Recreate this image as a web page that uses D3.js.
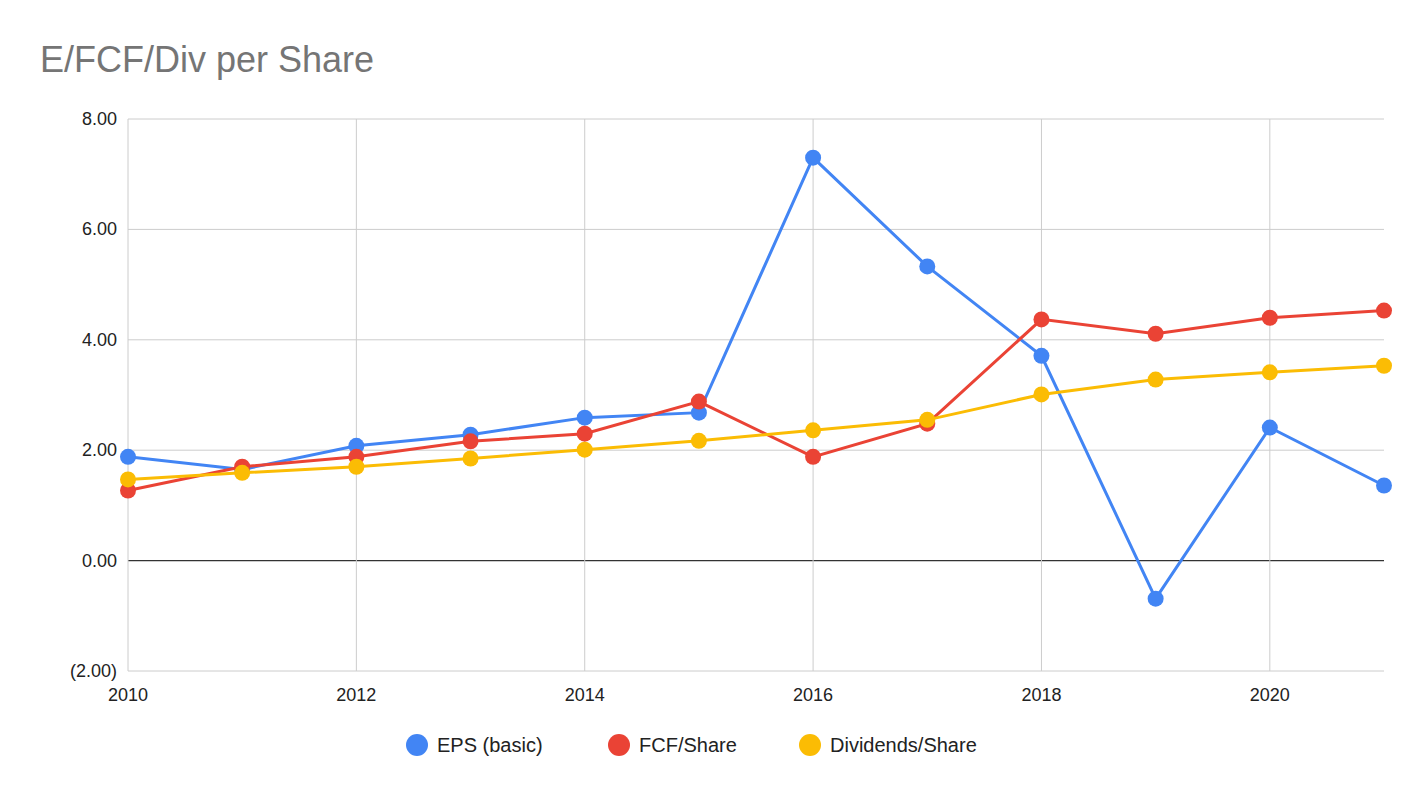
<!DOCTYPE html>
<html><head><meta charset="utf-8">
<script src="https://cdn.jsdelivr.net/npm/d3@7"></script>
<style>
body{margin:0;background:#fff;font-family:"Liberation Sans",Arial,sans-serif;}
</style></head>
<body><div id="chart"></div>
<script>
var years = [2010,2011,2012,2013,2014,2015,2016,2017,2018,2019,2020,2021];
var eps = [1.88,1.65,2.08,2.28,2.59,2.68,7.30,5.33,3.71,-0.69,2.41,1.36];
var fcf = [1.27,1.70,1.88,2.16,2.30,2.88,1.88,2.48,4.37,4.11,4.40,4.53];
var divs = [1.47,1.59,1.70,1.85,2.01,2.17,2.36,2.55,3.01,3.28,3.41,3.53];
var seriesNames = ["EPS (basic)","FCF/Share","Dividends/Share"];
var seriesColors = ["#4285f4","#ea4335","#fbbc04"];
var yTicks = [-2,0,2,4,6,8];
var xTicks = [2010,2012,2014,2016,2018,2020];

var W = 1424, H = 798;
var margins = {top:119, right:40, bottom:127, left:128};
var svg = d3.select("#chart").append("svg").attr("width",W).attr("height",H);

svg.append("text").attr("x",40).attr("y",72).attr("fill","#757575")
  .style("font-size","36px").text("E/FCF/Div per Share");

var x = d3.scaleLinear().domain([2010,2021]).range([margins.left, W-margins.right]);
var y = d3.scaleLinear().domain([-2,8]).range([H-margins.bottom, margins.top]);
var fmt = function(v){ return v<0 ? "(" + d3.format(".2f")(-v) + ")" : d3.format(".2f")(v); };

// grid
svg.append("g").selectAll("line").data(yTicks).enter().append("line")
  .attr("x1",margins.left).attr("x2",W-margins.right)
  .attr("y1",d=>y(d)).attr("y2",d=>y(d))
  .attr("stroke",d=>d==0?"#333":"#ccc").attr("stroke-width",d=>d==0?1.3:1);
svg.append("g").selectAll("line").data(xTicks).enter().append("line")
  .attr("x1",d=>x(d)).attr("x2",d=>x(d))
  .attr("y1",margins.top).attr("y2",H-margins.bottom)
  .attr("stroke","#ccc");

svg.append("g").selectAll("text").data(yTicks).enter().append("text")
  .attr("x",margins.left-11).attr("y",d=>y(d)+6).attr("text-anchor","end")
  .style("font-size","18px").attr("fill","#222").text(fmt);
svg.append("g").selectAll("text").data(xTicks).enter().append("text")
  .attr("x",d=>x(d)).attr("y",H-margins.bottom+30).attr("text-anchor","middle")
  .style("font-size","18px").attr("fill","#222").text(d=>d);

var data = [eps,fcf,divs];
var line = d3.line().x((d,i)=>x(years[i])).y(d=>y(d));
data.forEach(function(s,k){
  var g = svg.append("g");
  g.append("path").attr("d",line(s)).attr("fill","none")
    .attr("stroke",seriesColors[k]).attr("stroke-width",3);
  g.selectAll("circle").data(s).enter().append("circle")
    .attr("cx",(d,i)=>x(years[i])).attr("cy",d=>y(d)).attr("r",8)
    .attr("fill",seriesColors[k]);
});

// legend
var legX = [417,619,810];
var leg = svg.append("g").selectAll("g").data(seriesNames).enter().append("g")
  .attr("transform",(d,i)=>"translate("+legX[i]+",745)");
leg.append("circle").attr("r",11).attr("fill",(d,i)=>seriesColors[i]);
leg.append("text").attr("x",20).attr("y",7).style("font-size","20px")
  .attr("fill","#222").text(d=>d);
</script></body></html>
